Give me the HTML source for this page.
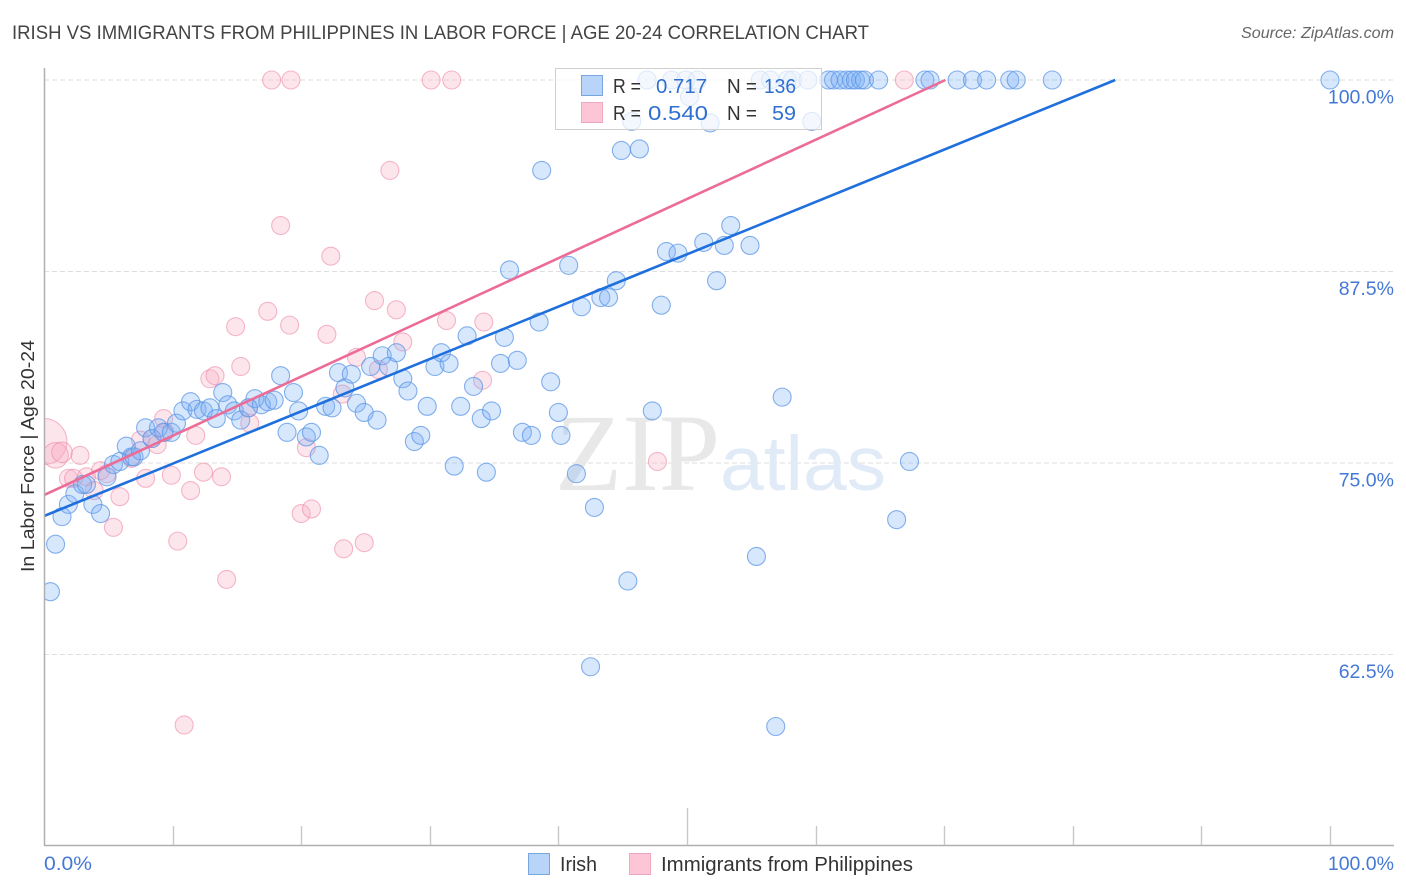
<!DOCTYPE html>
<html lang="en">
<head>
<meta charset="utf-8">
<title>Irish vs Immigrants from Philippines in Labor Force | Age 20-24 Correlation Chart</title>
<style>
html,body{margin:0;padding:0;background:#fff;}
svg{display:block;font-family:"Liberation Sans",sans-serif;}
</style>
</head>
<body>
<svg id="chart" xmlns="http://www.w3.org/2000/svg" width="1406" height="892" viewBox="0 0 1406 892">
  <defs>
    <clipPath id="plot-clip"><rect x="44" y="60" width="1350" height="785"/></clipPath>
  </defs>
  <rect x="0" y="0" width="1406" height="892" fill="#ffffff"/>
  <text x="12" y="39" font-size="19.5" fill="#444444" textLength="857" lengthAdjust="spacingAndGlyphs">IRISH VS IMMIGRANTS FROM PHILIPPINES IN LABOR FORCE | AGE 20-24 CORRELATION CHART</text>
  <text x="1241" y="38" font-size="16" font-style="italic" fill="#666666" textLength="153" lengthAdjust="spacingAndGlyphs">Source: ZipAtlas.com</text>
  <g id="grid-layer"></g>
  <g>
    <text x="555" y="490" font-family="'Liberation Serif',serif" font-size="110" fill="#e8e8e8">ZIP</text>
    <text x="720" y="490" font-size="77" fill="#e1ebf8" textLength="166" lengthAdjust="spacingAndGlyphs">atlas</text>
  </g>
  <g id="pink-layer" clip-path="url(#plot-clip)"></g>
  <g id="blue-layer" clip-path="url(#plot-clip)"></g>
  <g id="trend-layer" clip-path="url(#plot-clip)"></g>
  <g id="axis-layer"></g>
  <text transform="translate(34,456) rotate(-90)" font-size="18.5" fill="#333333" text-anchor="middle" textLength="232" lengthAdjust="spacingAndGlyphs">In Labor Force | Age 20-24</text>

  <g>
    <rect x="555.5" y="68.5" width="266" height="61" fill="#ffffff" fill-opacity="0.72" stroke="#cfcfcf" stroke-width="1"/>
    <rect x="581.5" y="75.5" width="21" height="20" fill="#b8d4f8" stroke="#7aa6e0"/>
    <rect x="581.5" y="102.5" width="21" height="20" fill="#fdc5d6" stroke="#f0a8bd"/>
    <g font-size="20">
      <text x="613" y="93" fill="#333333" textLength="28" lengthAdjust="spacingAndGlyphs">R =</text>
      <text x="656" y="93" fill="#2f6fd0" textLength="51" lengthAdjust="spacingAndGlyphs">0.717</text>
      <text x="727" y="93" fill="#333333" textLength="30" lengthAdjust="spacingAndGlyphs">N =</text>
      <text x="764" y="93" fill="#2f6fd0" textLength="32" lengthAdjust="spacingAndGlyphs">136</text>
      <text x="613" y="120" fill="#333333" textLength="28" lengthAdjust="spacingAndGlyphs">R =</text>
      <text x="648" y="120" fill="#2f6fd0" textLength="60" lengthAdjust="spacingAndGlyphs">0.540</text>
      <text x="727" y="120" fill="#333333" textLength="30" lengthAdjust="spacingAndGlyphs">N =</text>
      <text x="772" y="120" fill="#2f6fd0" textLength="24" lengthAdjust="spacingAndGlyphs">59</text>
    </g>
  </g>

  <g>
    <rect x="528.5" y="853.5" width="21" height="21" fill="#b8d4f8" stroke="#7aa6e0"/>
    <text x="560" y="871" font-size="20" fill="#333333" textLength="37" lengthAdjust="spacingAndGlyphs">Irish</text>
    <rect x="629.5" y="853.5" width="21" height="21" fill="#fdc5d6" stroke="#f0a8bd"/>
    <text x="661" y="871" font-size="20" fill="#333333" textLength="252" lengthAdjust="spacingAndGlyphs">Immigrants from Philippines</text>
  </g>
</svg>
<script>
const irishX = [46.9,48.8,49.9,50.8,55.7,56.5,57.8,58.2,59.4,61.0,61.4,61.9,62.4,62.8,63.1,63.5,63.8,64.9,68.5,68.9,71.0,72.2,73.3,75.1,75.6,78.4,100,
0.5,0.9,1.4,1.9,2.4,3.0,3.3,3.8,4.4,4.9,5.4,5.9,6.4,6.8,7.0,7.5,7.9,8.4,8.9,9.3,9.9,10.3,10.8,11.4,11.9,12.4,12.9,13.4,13.9,14.3,14.8,15.3,15.9,16.4,16.9,17.4,17.9,18.4,18.9,19.4,19.8,20.4,20.8,21.4,21.9,22.4,22.9,23.4,23.9,24.3,24.9,25.4,25.9,26.3,26.8,27.4,27.9,28.3,28.8,29.3,29.8,30.4,30.9,31.5,31.9,32.4,32.9,33.4,34.0,34.4,34.8,35.5,35.8,36.2,36.8,37.2,37.9,38.5,38.7,39.4,40.0,40.2,40.8,41.4,41.8,42.8,43.3,43.9,44.5,44.9,45.4,46.3,47.3,48.0,48.4,49.3,51.3,52.3,52.9,53.4,54.9,55.4,56.9,57.4,42.5,66.3,67.3,45.7,50.2,51.8,59.7];
const irishY = [100,100,100,100,100,100,100,100,100,100,100,100,100,100,100,100,100,100,100,100,100,100,100,100,100,100,100,
66.6,69.7,71.5,72.3,73.0,73.6,73.6,72.3,71.7,74.1,74.9,75.1,76.1,75.4,75.4,75.8,77.3,76.6,77.3,77.0,77.0,77.6,78.4,79.0,78.5,78.4,78.6,77.9,79.6,78.8,78.4,77.8,78.6,79.2,78.8,79.0,79.1,80.7,77.0,79.6,78.4,76.7,77.0,75.5,78.7,78.6,80.9,79.9,80.8,78.9,78.3,81.3,77.8,82.0,81.3,82.2,80.5,79.7,76.4,76.8,78.7,81.3,82.2,81.5,74.8,78.7,83.3,80.0,77.9,74.4,78.4,81.5,83.2,87.6,81.7,77.0,76.8,84.2,94.1,80.3,78.3,76.8,87.9,74.3,85.2,72.1,85.8,85.8,86.9,95.4,67.3,95.5,78.4,85.3,88.8,88.7,89.4,86.9,89.2,90.5,89.2,68.9,57.8,79.3,61.7,71.3,75.1,97.3,98.9,97.2,97.3];

const philippinesX = [0,0.9,1.4,2.8,1.9,2.3,3.3,3.9,4.4,4.9,5.4,5.9,6.8,7.5,7.9,8.4,8.8,9.3,9.4,9.9,10.4,10.9,11.4,11.8,12.4,12.9,13.3,13.8,14.2,14.9,15.3,15.9,16.0,17.4,17.7,18.4,19.1,19.2,20.0,20.4,20.8,22.0,22.3,23.2,23.3,24.3,24.9,25.7,26.0,26.9,27.4,27.9,30.1,31.3,31.7,34.1,34.2,47.7,66.9];
const philippinesY = [76.4,75.5,75.7,75.5,74.0,74.0,74.1,73.2,74.5,74.3,70.8,72.8,75.3,76.5,74.0,76.6,76.2,77.9,77.0,74.2,69.9,57.9,73.2,76.8,74.4,80.5,80.7,74.1,67.4,83.9,81.3,78.6,77.6,84.9,100,90.5,84.0,100,71.7,76.0,72.0,83.4,88.5,79.5,69.4,81.9,69.8,85.6,81.1,94.1,85.0,82.9,100,84.3,100,80.4,84.2,75.1,100];
// Relative sample weight of the leading Philippines points; all others weigh 1.
const philippinesWeight = [6.5,2,1.3];

const irishTrendX = [0,83.3];
const irishTrendY = [71.54,100];
const philippinesTrendX = [0,70.1];
const philippinesTrendY = [72.91,100];

const xTickValues = [10,20,30,40,50,60,70,80,90,100];
const xTickLabels = ["0.0%","100.0%"];
const xLabelValues = [0,100];
const yTickValues = [100,87.5,75,62.5];
const yTickLabels = ["100.0%","87.5%","75.0%","62.5%"];

const NS = "http://www.w3.org/2000/svg";
function xScale(v){ return 44 + v * 12.86; }
function yScale(v){ return 80 + (100 - v) * 15.32; }
function radius(w){ return 9 * Math.sqrt(w); }
function make(tag, attrs, parent){
  const el = document.createElementNS(NS, tag);
  for (const k in attrs) el.setAttribute(k, attrs[k]);
  parent.appendChild(el);
  return el;
}

const gridLayer = document.getElementById("grid-layer");
const axisLayer = document.getElementById("axis-layer");
const pinkLayer = document.getElementById("pink-layer");
const blueLayer = document.getElementById("blue-layer");
const trendLayer = document.getElementById("trend-layer");

yTickValues.forEach(function(v, i){
  const g = make("line", {x1:44, x2:1394, y1:yScale(v), y2:yScale(v), stroke:"#dedede", "stroke-width":1, "stroke-dasharray":"5 3"}, gridLayer);
  
  
  const t = make("text", {x:1394, y:yScale(v) + 23.5, "font-size":19.5, fill:"#4478d6", "text-anchor":"end"}, axisLayer);
  t.textContent = yTickLabels[i];
  
  
});

const yAxis = make("line", {x1:44.5, x2:44.5, y1:68, y2:845.5, stroke:"#b0b0b0", "stroke-width":1.5}, axisLayer);


const xAxis = make("line", {x1:44, x2:1394, y1:845.5, y2:845.5, stroke:"#b0b0b0", "stroke-width":1.5}, axisLayer);



xTickValues.forEach(function(v){
  const px = Math.round(xScale(v)) + 0.5;
  const tick = make("line", {x1:px, x2:px, y1:(v === 50 ? 808 : 826), y2:845, stroke:"#c8c8c8", "stroke-width":1.4}, axisLayer);
  
  
});

xLabelValues.forEach(function(v, i){
  const t = make("text", {x:(i === 0 ? xScale(v) : 1394), y:870, "font-size":19.5, fill:"#4478d6", "text-anchor":(i === 0 ? "start" : "end")}, axisLayer);
  t.textContent = xTickLabels[i];
  
  
  if (i === 0) {
    t.setAttribute('textLength', '48');
    t.setAttribute('lengthAdjust', 'spacingAndGlyphs');
  }
});

philippinesX.forEach(function(v, i){
  const w = i < philippinesWeight.length ? philippinesWeight[i] : 1;
  const c = make("circle", {cx:xScale(v), cy:yScale(philippinesY[i]), r:radius(w), fill:"#f9a8c0", "fill-opacity":0.3, stroke:"#ee8aa8", "stroke-opacity":0.6, "stroke-width":1.1}, pinkLayer);
  
  
});

irishX.forEach(function(v, i){
  const c = make("circle", {cx:xScale(v), cy:yScale(irishY[i]), r:radius(1), fill:"#7ab0f5", "fill-opacity":0.3, stroke:"#5c97e6", "stroke-opacity":0.75, "stroke-width":1.1}, blueLayer);
  
  
});

const irishTrend = make("line", {x1:xScale(irishTrendX[0]), y1:yScale(irishTrendY[0]), x2:xScale(irishTrendX[1]), y2:yScale(irishTrendY[1]), stroke:"#1f6fdc", "stroke-width":2.6}, trendLayer);


const philippinesTrend = make("line", {x1:xScale(philippinesTrendX[0]), y1:yScale(philippinesTrendY[0]), x2:xScale(philippinesTrendX[1]), y2:yScale(philippinesTrendY[1]), stroke:"#ec6c97", "stroke-width":2.6}, trendLayer);


</script>
</body>
</html>
